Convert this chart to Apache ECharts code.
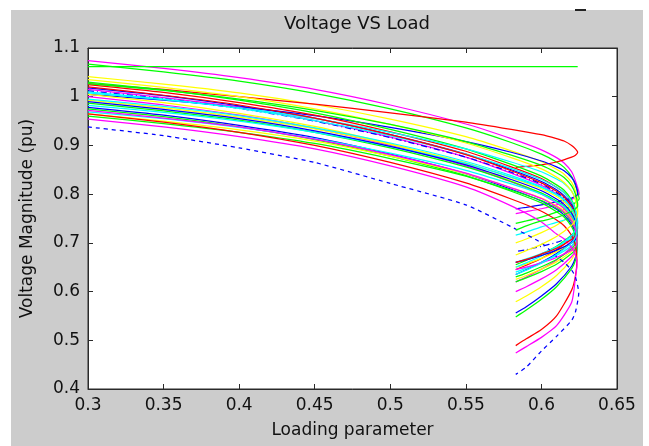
<!DOCTYPE html>
<html>
<head>
<meta charset="utf-8">
<script src="https://cdn.jsdelivr.net/npm/echarts@6/dist/echarts.min.js"></script>
<style>
html,body{margin:0;padding:0;background:#fff;}
#chart{width:649px;height:446px;}
</style>
</head>
<body>
<div id="chart"></div>
<script>
// Loading parameter grid (upper branch, then lower branch after the nose)
const lamUpper = [0.30, 0.35, 0.40, 0.45, 0.50, 0.55, 0.58, 0.60, 0.61, 0.615, 0.62, 0.6225];
const lamLower = [0.6225, 0.62, 0.61, 0.60, 0.59, 0.583];

const busColors = ['m','g','y','r','b','g','r','b','m','c','b','y','m','y','g','c','b','g','c','y','g','r','m','b','c','b','m','y','r','g','c'];
const busStyle  = ['-','-','-','-','-','-','-','-','-','-','-.','-','-','-','-','-','-','-','-','-','-','-','-','--','-','-','-','-','-','-','-'];

const upperV = [
  [1.074,1.058,1.039,1.015,0.983,0.944,0.914,0.891,0.875,0.864,0.846,0.827],
  [1.067,1.051,1.032,1.007,0.975,0.936,0.906,0.882,0.866,0.855,0.836,0.818],
  [1.041,1.026,1.008,0.984,0.954,0.918,0.889,0.867,0.851,0.841,0.824,0.806],
  [1.027,1.015,1.000,0.985,0.967,0.948,0.933,0.922,0.914,0.909,0.900,0.893],
  [1.005,0.993,0.979,0.961,0.937,0.908,0.886,0.868,0.856,0.848,0.834,0.821],
  [1.030,1.014,0.993,0.967,0.933,0.893,0.861,0.837,0.819,0.808,0.788,0.769],
  [1.025,1.009,0.988,0.962,0.928,0.888,0.856,0.832,0.814,0.803,0.783,0.764],
  [1.018,1.002,0.981,0.956,0.922,0.882,0.850,0.826,0.809,0.797,0.778,0.759],
  [1.015,0.998,0.978,0.951,0.917,0.876,0.843,0.818,0.801,0.789,0.769,0.750],
  [1.008,0.994,0.977,0.955,0.927,0.893,0.866,0.846,0.831,0.822,0.806,0.789],
  [1.012,0.996,0.976,0.950,0.916,0.876,0.845,0.821,0.803,0.792,0.773,0.754],
  [1.005,0.988,0.966,0.939,0.903,0.861,0.827,0.802,0.783,0.771,0.751,0.731],
  [1.000,0.983,0.962,0.935,0.900,0.858,0.825,0.800,0.782,0.770,0.750,0.730],
  [0.993,0.977,0.958,0.934,0.902,0.864,0.834,0.811,0.795,0.784,0.766,0.747],
  [0.987,0.971,0.952,0.927,0.895,0.856,0.826,0.802,0.786,0.775,0.756,0.738],
  [0.982,0.968,0.950,0.927,0.898,0.863,0.835,0.814,0.799,0.789,0.772,0.755],
  [0.978,0.962,0.941,0.916,0.882,0.842,0.810,0.786,0.769,0.757,0.738,0.719],
  [0.975,0.959,0.938,0.912,0.878,0.838,0.806,0.782,0.764,0.753,0.733,0.714],
  [0.969,0.955,0.937,0.914,0.884,0.849,0.821,0.800,0.784,0.774,0.757,0.740],
  [0.965,0.950,0.932,0.909,0.878,0.842,0.813,0.792,0.776,0.766,0.748,0.731],
  [0.960,0.945,0.927,0.904,0.873,0.837,0.808,0.787,0.771,0.761,0.743,0.726],
  [0.965,0.948,0.927,0.900,0.865,0.823,0.790,0.765,0.747,0.735,0.715,0.695],
  [0.954,0.938,0.918,0.893,0.858,0.815,0.776,0.743,0.718,0.708,0.690,0.675],
  [0.938,0.920,0.895,0.865,0.822,0.778,0.733,0.700,0.672,0.660,0.644,0.630],
  [1.010,0.995,0.976,0.951,0.920,0.882,0.853,0.830,0.814,0.803,0.785,0.767],
  [0.990,0.974,0.955,0.930,0.898,0.860,0.830,0.807,0.790,0.779,0.761,0.743],
  [0.972,0.956,0.938,0.913,0.881,0.843,0.813,0.791,0.774,0.763,0.745,0.727],
  [1.035,1.019,1.000,0.975,0.943,0.905,0.875,0.852,0.835,0.824,0.806,0.788],
  [1.020,1.003,0.983,0.956,0.922,0.881,0.848,0.823,0.806,0.794,0.774,0.755],
  [1.027,1.013,0.995,0.972,0.943,0.908,0.880,0.859,0.844,0.834,0.817,0.800],
  [0.995,0.980,0.961,0.936,0.905,0.867,0.838,0.815,0.799,0.788,0.770,0.752]
];

const noseLam = [0.625,0.625,0.624,0.624,0.624,0.6235,0.6235,0.6235,0.6235,0.624,0.6235,0.6235,0.6235,0.6235,0.6235,0.624,0.6235,0.6235,0.6235,0.6235,0.6235,0.6235,0.6235,0.6247,0.624,0.6235,0.6235,0.624,0.6235,0.624,0.6235];
const noseV   = [0.800,0.790,0.780,0.886,0.800,0.740,0.735,0.730,0.720,0.765,0.725,0.700,0.700,0.720,0.710,0.730,0.690,0.685,0.715,0.705,0.700,0.665,0.655,0.597,0.740,0.715,0.700,0.760,0.725,0.775,0.725];

const lowerV = [
  [0.794,0.789,0.778,0.770,0.764,0.760],
  [0.783,0.776,0.763,0.753,0.745,0.740],
  [0.768,0.758,0.736,0.721,0.708,0.700],
  [0.880,0.876,0.866,0.860,0.857,0.855],
  [0.796,0.792,0.784,0.778,0.773,0.770],
  [0.727,0.716,0.693,0.677,0.664,0.655],
  [0.722,0.710,0.686,0.668,0.654,0.645],
  [0.716,0.703,0.678,0.660,0.645,0.635],
  [0.705,0.692,0.665,0.646,0.630,0.620],
  [0.760,0.752,0.742,0.733,0.722,0.716],
  [0.719,0.713,0.701,0.693,0.686,0.682],
  [0.682,0.666,0.633,0.610,0.591,0.579],
  [0.685,0.672,0.645,0.626,0.610,0.600],
  [0.710,0.700,0.682,0.668,0.657,0.650],
  [0.698,0.688,0.666,0.651,0.638,0.630],
  [0.720,0.710,0.692,0.678,0.667,0.660],
  [0.670,0.652,0.616,0.591,0.569,0.556],
  [0.664,0.647,0.610,0.584,0.562,0.548],
  [0.704,0.694,0.674,0.660,0.648,0.640],
  [0.693,0.683,0.661,0.646,0.633,0.625],
  [0.688,0.678,0.656,0.641,0.628,0.620],
  [0.632,0.603,0.550,0.522,0.503,0.489],
  [0.628,0.578,0.530,0.506,0.487,0.474],
  [0.558,0.541,0.508,0.478,0.445,0.430],
  [0.727,0.715,0.691,0.673,0.659,0.650],
  [0.707,0.700,0.685,0.674,0.665,0.660],
  [0.692,0.685,0.670,0.659,0.650,0.645],
  [0.747,0.736,0.713,0.697,0.684,0.675],
  [0.715,0.707,0.689,0.677,0.666,0.660],
  [0.770,0.765,0.752,0.745,0.735,0.726],
  [0.712,0.700,0.676,0.658,0.644,0.635]
];

// slack / generator bus: constant voltage
const flatLam = [0.30, 0.624];
const flatV = [1.062, 1.062];

const colorMap = {b:'#0000ff', g:'#00ff00', r:'#ff0000', c:'#00ffff', m:'#ff00ff', y:'#ffff00'};
const styleMap = {'-':'solid', '--':[4,4], '-.':[6,3,1,3]};

const series = [];
upperV.forEach((uv, i) => {
  const pts = [];
  lamUpper.forEach((l, k) => pts.push([l, uv[k]]));
  pts.push([noseLam[i], noseV[i]]);
  lamLower.forEach((l, k) => pts.push([l, lowerV[i][k]]));
  series.push({
    type: 'line', data: pts, showSymbol: false, smooth: 0.2, silent: true,
    lineStyle: {color: colorMap[busColors[i]], width: 1.25, type: styleMap[busStyle[i]]},
    z: 2
  });
  if (i === 1) {
    series.push({
      type: 'line', data: flatLam.map((l, k) => [l, flatV[k]]), showSymbol: false, silent: true,
      lineStyle: {color: colorMap.g, width: 1.25}, z: 2
    });
  }
});

const FONT = 'DejaVu Sans';
const TXT = '#111';
const AX = '#2a2a2a';

const chart = echarts.init(document.getElementById('chart'), null, {renderer: 'canvas'});
chart.setOption({
  animation: false,
  backgroundColor: '#ffffff',
  graphic: [
    {type: 'rect', z: -100, silent: true, shape: {x: 11, y: 10, width: 632, height: 436}, style: {fill: '#cccccc'}},
    {type: 'rect', z: 100, silent: true, shape: {x: 575, y: 9, width: 11, height: 2}, style: {fill: '#222'}}
  ],
  title: {
    text: 'Voltage VS Load', left: 352, top: 10, textAlign: 'center',
    textStyle: {fontFamily: FONT, fontSize: 18, fontWeight: 'normal', color: TXT}
  },
  grid: {left: 88, top: 48, right: 32, bottom: 57, show: true, backgroundColor: '#ffffff', borderColor: AX, borderWidth: 1},
  xAxis: [{
    type: 'value', min: 0.3, max: 0.65, interval: 0.05, position: 'bottom',
    name: 'Loading parameter', nameLocation: 'middle', nameGap: 33,
    nameTextStyle: {fontFamily: FONT, fontSize: 17, color: TXT},
    axisLine: {show: true, lineStyle: {color: AX}},
    axisTick: {show: true, inside: true, length: 5, lineStyle: {color: AX}},
    axisLabel: {fontFamily: FONT, fontSize: 17, color: TXT, margin: 8},
    splitLine: {show: false}
  }, {
    type: 'value', min: 0.3, max: 0.65, interval: 0.05, position: 'top',
    axisLine: {show: true, lineStyle: {color: AX}},
    axisTick: {show: true, inside: true, length: 5, lineStyle: {color: AX}},
    axisLabel: {show: false}, splitLine: {show: false}
  }],
  yAxis: [{
    type: 'value', min: 0.4, max: 1.1, interval: 0.1, position: 'left',
    name: 'Voltage Magnitude (pu)', nameLocation: 'middle', nameGap: 52, nameRotate: 90,
    nameTextStyle: {fontFamily: FONT, fontSize: 17, color: TXT},
    axisLine: {show: true, lineStyle: {color: AX}},
    axisTick: {show: true, inside: true, length: 5, lineStyle: {color: AX}},
    axisLabel: {fontFamily: FONT, fontSize: 17, color: TXT, margin: 8},
    splitLine: {show: false}
  }, {
    type: 'value', min: 0.4, max: 1.1, interval: 0.1, position: 'right',
    axisLine: {show: true, lineStyle: {color: AX}},
    axisTick: {show: true, inside: true, length: 5, lineStyle: {color: AX}},
    axisLabel: {show: false}, splitLine: {show: false}
  }],
  series: series
});
</script>
</body>
</html>
